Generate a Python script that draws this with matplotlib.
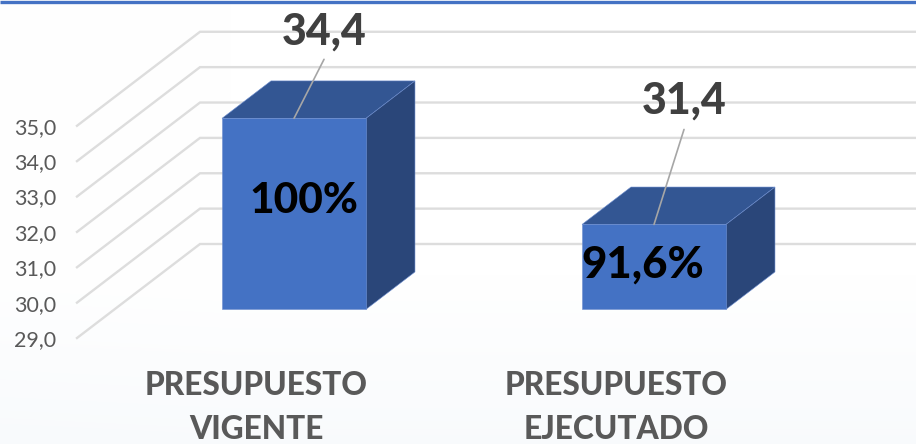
#!/usr/bin/env python3
import numpy as np
import matplotlib
matplotlib.use('Agg')
import matplotlib.pyplot as plt

plt.rcParams['font.family'] = ['Lato', 'DejaVu Sans']

# chart values
categories = ['PRESUPUESTO\nVIGENTE', 'PRESUPUESTO\nEJECUTADO']
values = [34.4, 31.4]
value_labels = ['34,4', '31,4']
percent_labels = ['100%', '91,6%']
y_ticks = [29, 30, 31, 32, 33, 34, 35]
y_tick_labels = ['29,0', '30,0', '31,0', '32,0', '33,0', '34,0', '35,0']

W, H = 916, 444
# pixel scale of the axes: one category = 360 px, one unit of value = 35.37 px
x_unit = 360.0
y_unit = 35.37
dep_x = 123 / x_unit   # oblique shift from front to back of the floor
dep_y = 94 / y_unit
bar_half = 72 / x_unit
bar_d0, bar_d1 = 0.305, 0.703   # depth of the bar inside the floor

fig = plt.figure(figsize=(W / 100, H / 100), dpi=100, facecolor='white')

# very faint wash at the bottom of the slide
bg = fig.add_axes([0, 0, 1, 1], zorder=-1)
yy, xx = np.mgrid[0:1:222j, 0:1:458j]
wash = np.clip((yy - 0.62) / 0.38, 0, 1) * 0.45 + np.clip(0.25 - xx, 0, 1) * 0.12 * np.clip(yy * 1.6, 0, 1)
rgb = np.ones(yy.shape + (3,))
rgb[..., 0] -= wash * 0.055
rgb[..., 1] -= wash * 0.038
rgb[..., 2] -= wash * 0.02
bg.imshow(rgb, aspect='auto', extent=(0, 1, 0, 1), origin='upper', interpolation='bilinear')
bg.axis('off')
bg.plot([0, 1], [1 - 2.5 / H] * 2, color='#4472C4', lw=2.4, solid_capstyle='butt')
bg.set_xlim(0, 1)
bg.set_ylim(0, 1)

# axes covers x=77..916 px and y=0..345 px of the picture
ax = fig.add_axes([77 / W, 1 - 345 / H, 839 / W, 345 / H])
ax.patch.set_alpha(0)
ax.set_xlim((77 - 256.5) / x_unit, (916 - 256.5) / x_unit)
ax.set_ylim(29 - 7 / y_unit, 29 + 338 / y_unit)
for s in ax.spines.values():
    s.set_visible(False)

ax.set_yticks(y_ticks)
ax.set_yticklabels(y_tick_labels, fontsize=15.5, color='#595959')
ax.tick_params(axis='y', length=0, pad=15)
ax.set_xticks(range(len(categories)))
ax.set_xticklabels(categories, fontsize=22.8, fontweight=900, color='#595959', linespacing=1.62)
ax.tick_params(axis='x', length=0, pad=19)

# gridlines: wall part plus the slanted floor part
x0, x1 = ax.get_xlim()
for v in y_ticks:
    ax.plot([x0, x0 + dep_x, x1], [v, v + dep_y, v + dep_y], color='#DDDDDD', lw=1.7, zorder=1,
            solid_joinstyle='miter', clip_on=False)

# oblique projection of (x, value, depth)
def proj(x, v, d):
    return x + d * dep_x, v + d * dep_y

def face(pts, color):
    xs, ys = zip(*[proj(*p) for p in pts])
    ax.fill(xs, ys, facecolor=color, edgecolor='#6C8DCF', lw=0.4, zorder=3, clip_on=False)

base = y_ticks[0]
leader_px = [(30, 59), (30, 95)]
text_px = [(30, 87), (30, 124)]
for i, v in enumerate(values):
    l, r = i - bar_half, i + bar_half
    # top, side, front
    face([(l, v, bar_d0), (r, v, bar_d0), (r, v, bar_d1), (l, v, bar_d1)], '#335693')
    face([(r, base, bar_d0), (r, base, bar_d1), (r, v, bar_d1), (r, v, bar_d0)], '#2A4679')
    face([(l, base, bar_d0), (r, base, bar_d0), (r, v, bar_d0), (l, v, bar_d0)], '#4472C4')

    top = proj(i, v, bar_d0)
    ax.annotate('', xy=top, xycoords='data',
                xytext=(leader_px[i][0] * 0.72, leader_px[i][1] * 0.72), textcoords='offset points',
                arrowprops=dict(arrowstyle='-', color='#A6A6A6', lw=1.2, shrinkA=0, shrinkB=0), zorder=4)
    ax.annotate(value_labels[i], xy=top, xycoords='data',
                xytext=(text_px[i][0] * 0.72, text_px[i][1] * 0.72), textcoords='offset points',
                ha='center', va='center', fontsize=31, fontweight=900, color='#404040', zorder=5)

# percent labels inside the front faces
ax.text(proj(0, 0, bar_d0)[0] + 10 / x_unit, 32.87, percent_labels[0], ha='center', va='center',
        fontsize=30.5, fontweight=900, color='black', zorder=5)
ax.text(proj(1, 0, bar_d0)[0] - 11 / x_unit, 31.07, percent_labels[1], ha='center', va='center',
        fontsize=31.5, fontweight=900, color='black', zorder=5)

fig.savefig('out.png', dpi=100)
